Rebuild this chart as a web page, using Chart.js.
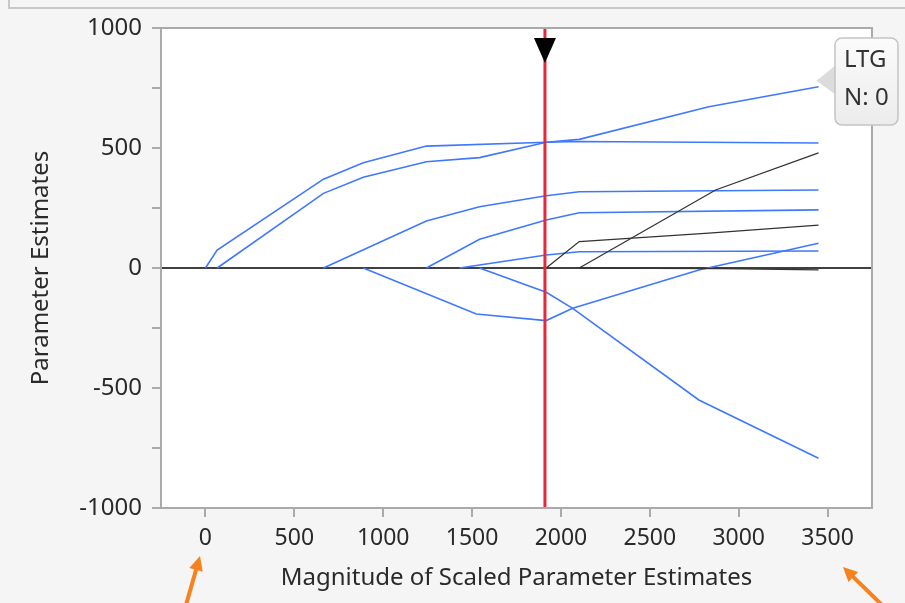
<!DOCTYPE html>
<html lang="en">
<head>
    <meta charset="UTF-8">
    <title>Parameter Estimates</title>
    <script src="https://cdn.jsdelivr.net/npm/chart.js"></script>
    <style>
        html, body { margin: 0; padding: 0; background: #f5f5f5; }
        #wrap { width: 905px; height: 603px; }
    </style>
</head>
<body>
<div id="wrap"><canvas id="pathChart" width="905" height="603"></canvas></div>

<script>
    // solution paths: [magnitude, estimate]
    const pathA = [[0, 0], [66, 75], [664, 370], [888, 439], [1243, 508], [1917, 524], [2103, 527], [3449, 521]];
    const pathB = [[66, 0], [664, 311], [888, 378], [1243, 443], [1542, 460], [1917, 524], [2103, 536], [2832, 672], [3449, 755]];
    const pathC = [[664, 0], [1243, 196], [1542, 255], [1917, 301], [2103, 318], [3449, 325]];
    const pathD = [[1243, 0], [1542, 120], [1917, 200], [2103, 230], [3449, 242]];
    const pathE = [[1430, 0], [1917, 54], [2103, 68], [3449, 71]];
    const pathF = [[888, 0], [1524, -192], [1917, -219], [2066, -168], [2776, -8], [3449, 103]];
    const pathG = [[1542, 0], [1917, -101], [2066, -168], [2776, -550], [3449, -793]];
    // paths entering after the selected step
    const pathK1 = [[1917, 0], [2103, 110], [2832, 145], [3449, 179]];
    const pathK2 = [[2103, 0], [2870, 325], [3449, 480]];
    const pathK3 = [[2103, 0], [2900, -3], [3449, -8]];

    const bluePaths = [pathA, pathB, pathC, pathD, pathE, pathF, pathG];
    const blackPaths = [pathK1, pathK2, pathK3];

    const xTicks = [0, 500, 1000, 1500, 2000, 2500, 3000, 3500];
    const selectedStep = 1910;
    const hoverLabel = ['LTG', 'N: 0'];

    const FONT = '"Noto Sans", sans-serif';
    const TEXT = '#2a2a2a';

    const toXY = p => p.map(([x, y]) => ({x, y}));
    const datasets = [];
    blackPaths.forEach(p => datasets.push({data: toXY(p), borderColor: '#333333', borderWidth: 1.3}));
    bluePaths.forEach(p => datasets.push({data: toXY(p), borderColor: '#3f78ff', borderWidth: 1.6}));

    const decor = {
        id: 'decor',
        beforeDraw(chart) {
            const {ctx, chartArea: a} = chart;
            ctx.save();
            ctx.fillStyle = '#f5f5f5';
            ctx.fillRect(0, 0, chart.width, chart.height);
            ctx.fillStyle = '#ffffff';
            ctx.fillRect(a.left, a.top, a.right - a.left, a.bottom - a.top);
            // frame of the panel above
            ctx.strokeStyle = '#c8c8c8';
            ctx.lineWidth = 2;
            ctx.beginPath();
            ctx.moveTo(9, 0);
            ctx.lineTo(9, 8);
            ctx.lineTo(905, 8);
            ctx.stroke();
            ctx.restore();
        },
        beforeDatasetsDraw(chart) {
            const {ctx, chartArea: a, scales: {y}} = chart;
            const y0 = y.getPixelForValue(0);
            ctx.save();
            ctx.strokeStyle = '#000000';
            ctx.lineWidth = 1.5;
            ctx.beginPath();
            ctx.moveTo(a.left, y0);
            ctx.lineTo(a.right, y0);
            ctx.stroke();
            ctx.restore();
        },
        afterDatasetsDraw(chart) {
            const {ctx, chartArea: a, scales: {x}} = chart;
            const xs = x.getPixelForValue(selectedStep);
            ctx.save();
            ctx.strokeStyle = '#e8283a';
            ctx.lineWidth = 3;
            ctx.beginPath();
            ctx.moveTo(xs, a.top);
            ctx.lineTo(xs, a.bottom);
            ctx.stroke();
            // slider handle
            ctx.fillStyle = '#000000';
            ctx.beginPath();
            ctx.moveTo(xs - 11, a.top + 10);
            ctx.lineTo(xs + 11, a.top + 10);
            ctx.lineTo(xs, a.top + 35);
            ctx.closePath();
            ctx.fill();
            ctx.restore();
        },
        afterDraw(chart) {
            const {ctx, chartArea: a, scales: {x, y}} = chart;
            ctx.save();
            ctx.strokeStyle = '#aaaaaa';
            ctx.lineWidth = 2;
            ctx.strokeRect(a.left, a.top, a.right - a.left, a.bottom - a.top);

            // hover label on the end of pathB
            const end = pathB[pathB.length - 1];
            const px = x.getPixelForValue(end[0]);
            const py = y.getPixelForValue(end[1]);
            const bx = 835, by = 38, bw = 63, bh = 87, r = 7;
            ctx.fillStyle = '#dcdcdc';
            ctx.beginPath();
            ctx.moveTo(px - 2, py - 6);
            ctx.lineTo(bx + 1, by + 27);
            ctx.lineTo(bx + 1, by + 57);
            ctx.closePath();
            ctx.fill();
            const g = ctx.createLinearGradient(0, by, 0, by + bh);
            g.addColorStop(0, '#fbfbfb');
            g.addColorStop(1, '#ececec');
            ctx.fillStyle = g;
            ctx.strokeStyle = '#c4c4c4';
            ctx.lineWidth = 1.5;
            ctx.beginPath();
            ctx.roundRect(bx, by, bw, bh, r);
            ctx.fill();
            ctx.stroke();
            ctx.fillStyle = '#333333';
            ctx.font = '24px ' + FONT;
            ctx.textAlign = 'left';
            ctx.textBaseline = 'middle';
            ctx.fillText(hoverLabel[0], bx + 9, by + 22);
            ctx.fillText(hoverLabel[1], bx + 9, by + 60);

            // orange callout arrows
            const arrow = (x1, y1, x2, y2) => {
                const ang = Math.atan2(y2 - y1, x2 - x1);
                const hl = 16;
                ctx.strokeStyle = '#f5821f';
                ctx.fillStyle = '#f5821f';
                ctx.lineWidth = 4;
                ctx.beginPath();
                ctx.moveTo(x1, y1);
                ctx.lineTo(x2 - Math.cos(ang) * hl * 0.8, y2 - Math.sin(ang) * hl * 0.8);
                ctx.stroke();
                ctx.beginPath();
                ctx.moveTo(x2, y2);
                ctx.lineTo(x2 - hl * Math.cos(ang - 0.45), y2 - hl * Math.sin(ang - 0.45));
                ctx.lineTo(x2 - hl * Math.cos(ang + 0.45), y2 - hl * Math.sin(ang + 0.45));
                ctx.closePath();
                ctx.fill();
            };
            arrow(186, 605, 200, 556);
            arrow(882, 605, 843, 567);
            ctx.restore();
        }
    };

    new Chart(document.getElementById('pathChart').getContext('2d'), {
        type: 'line',
        data: {datasets},
        options: {
            responsive: false,
            animation: false,
            events: [],
            layout: {padding: {top: 28, right: 33, left: 0, bottom: 0}},
            elements: {point: {radius: 0}, line: {tension: 0}},
            plugins: {legend: {display: false}, tooltip: {enabled: false}},
            scales: {
                x: {
                    type: 'linear',
                    min: -250,
                    max: 3750,
                    afterFit: s => { s.height = 95; },
                    afterBuildTicks: s => { s.ticks = xTicks.map(v => ({value: v})); },
                    grid: {drawOnChartArea: false, color: '#aaaaaa', tickLength: 9, lineWidth: 2},
                    border: {display: false},
                    ticks: {color: TEXT, font: {family: FONT, size: 23}, padding: 8, maxRotation: 0,
                        callback: v => String(v)},
                    title: {display: true, text: 'Magnitude of Scaled Parameter Estimates', color: TEXT,
                        font: {family: FONT, size: 24}, padding: {top: 0, bottom: 10}}
                },
                y: {
                    min: -1000,
                    max: 1000,
                    afterFit: s => { s.width = 161; },
                    ticks: {
                        stepSize: 250,
                        color: TEXT,
                        font: {family: FONT, size: 24},
                        padding: 10,
                        callback: v => (v % 500 === 0 ? String(v) : '')
                    },
                    grid: {drawOnChartArea: false, color: '#aaaaaa', tickLength: 9, lineWidth: 2},
                    border: {display: false},
                    title: {display: true, text: 'Parameter Estimates', color: TEXT,
                        font: {family: FONT, size: 24}, padding: {top: 27, bottom: 0}}
                }
            }
        },
        plugins: [decor]
    });
</script>
</body>
</html>
